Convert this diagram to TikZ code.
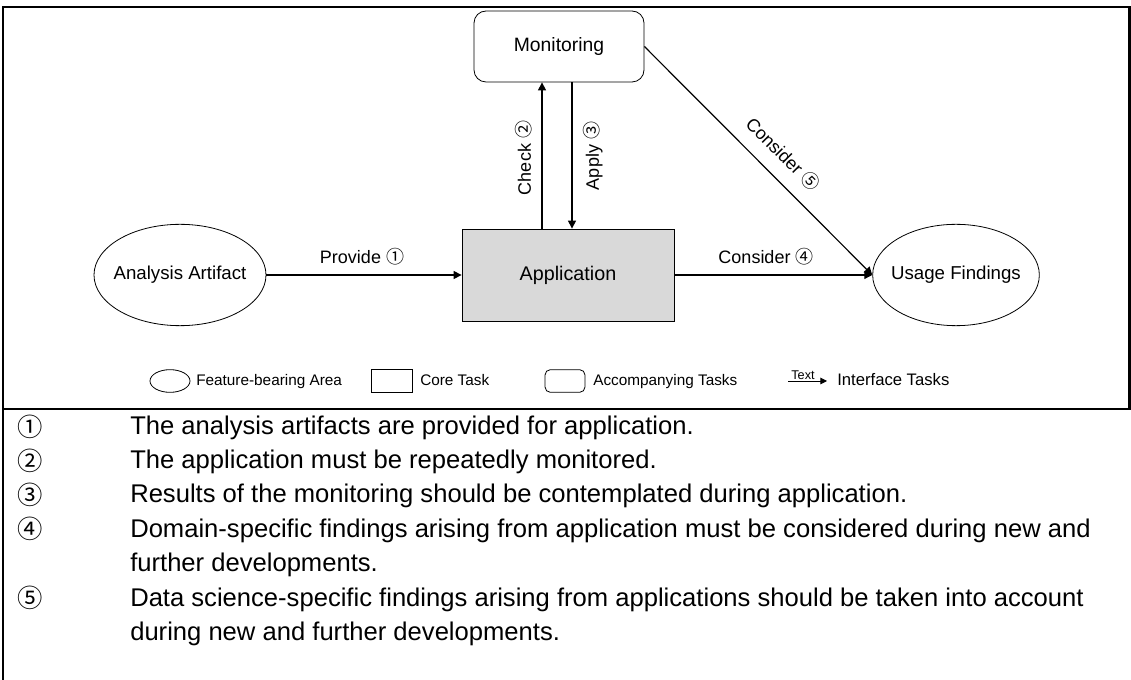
\documentclass[tikz,border=0pt]{standalone}
\usepackage{fontspec}
\setmainfont{Liberation Sans}
\newfontfamily\symfont{Noto Sans CJK SC}
\usetikzlibrary{shapes.geometric,arrows.meta}
\newcommand{\cnum}[1]{{\symfont #1}}
\begin{document}
\begin{tikzpicture}[x=0.75pt,y=-0.75pt,
  arr/.style={-{Triangle[length=6pt,width=6pt]},line width=0.9pt},
  lbl/.style={font=\fontsize{13.5}{15}\selectfont,inner sep=1pt},
  leg/.style={font=\fontsize{11.5}{13}\selectfont,anchor=base west,inner sep=0pt},
  frame/.style={line width=1.6pt},
  rowtxt/.style={font=\fontsize{19.2}{21}\selectfont,anchor=base west,inner sep=0pt},
  rownum/.style={font=\symfont\fontsize{19}{21}\selectfont,inner sep=0pt},
  area/.style={draw,ellipse,inner sep=0pt,line width=0.6pt},
  core/.style={draw,rectangle,inner sep=0pt,line width=0.6pt},
  acc/.style={draw,rectangle,rounded corners=9pt,inner sep=0pt,line width=0.6pt}]
\useasboundingbox (0,0) rectangle (1131,680);
% frame
\coordinate (tl) at (3,7);
\coordinate (tr) at (1129.5,7);
\coordinate (ml) at (3,409);
\coordinate (mr) at (1131,409);
\coordinate (bl) at (3,680);
\draw[frame] (bl) -- (tl) -- (tr) -- (tr |- mr);
\draw[frame] (ml) -- (mr);
% nodes
\node[area,minimum width=129pt,minimum height=76pt,font=\fontsize{14}{16}\selectfont] (aa) at (180,275) {\makebox[0pt]{Analysis Artifact}};
\node[core,fill=black!15,minimum width=159pt,minimum height=69pt,font=\fontsize{14.8}{16}\selectfont] (app) at (568,275) {Application};
\node[acc,minimum width=127.5pt,minimum height=53.25pt,font=\fontsize{14.5}{16}\selectfont] (mon) at (559,46.5) {Monitoring};
\node[area,minimum width=125pt,minimum height=76pt,font=\fontsize{14}{16}\selectfont] (uf) at (956,275) {\makebox[0pt]{Usage Findings}};
% connectors
\coordinate (chk) at (542,0);
\coordinate (apl) at (572,0);
\draw[arr] (app.north -| chk) -- (mon.south -| chk);
\draw[arr] (mon.south -| apl) -- (app.north -| apl);
\draw[arr] (aa.east) -- (app.west);
\draw[arr] (app.east) -- (uf.west);
\draw[arr] (mon.east) -- (uf.west);
% labels
\node[lbl] (l1) at (362,257) {Provide \cnum{①}};
\node[lbl,rotate=90] (l2) at (524,158) {Check \cnum{②}};
\node[lbl,rotate=90] (l3) at (593,156) {Apply \cnum{③}};
\node[lbl] (l4) at (766,257) {Consider \cnum{④}};
\node[lbl,rotate=-45] (l5) at (783,154) {Consider \cnum{⑤}};
% legend
\node[area,minimum width=30pt,minimum height=17pt] (lg1) at (170,381) {};
\node[leg] (lt1) at (196,386) {Feature-bearing Area};
\node[core,minimum width=30.75pt,minimum height=17pt] (lg2) at (391.5,381) {};
\node[leg] (lt2) at (420,386) {Core Task};
\node[acc,rounded corners=4pt,minimum width=30pt,minimum height=17pt] (lg3) at (565,381) {};
\node[leg] (lt3) at (593,386) {Accompanying Tasks};
\coordinate (la1) at (788,381);
\coordinate (la2) at (827,381);
\draw[-{Triangle[length=5pt,width=5pt]},line width=0.7pt] (la1) -- (la2);
\node[font=\fontsize{9.5}{10}\selectfont,inner sep=0pt,anchor=base] (ltx) at (803,380) {Text};
\node[leg,font=\fontsize{12.5}{14}\selectfont] (lt4) at (837,386) {Interface Tasks};
% explanations
\node[rownum] (n1) at (30,427) {①};
\node[rowtxt] (t1) at (130,435) {The analysis artifacts are provided for application.};
\node[rownum] (n2) at (30,461) {②};
\node[rowtxt] (t2) at (130,469) {The application must be repeatedly monitored.};
\node[rownum] (n3) at (30,495) {③};
\node[rowtxt] (t3) at (130,503) {Results of the monitoring should be contemplated during application.};
\node[rownum] (n4) at (30,529) {④};
\node[rowtxt] (t4) at (130,537) {Domain-specific findings arising from application must be considered during new and};
\node[rowtxt] (t4b) at (130,571) {further developments.};
\node[rownum] (n5) at (30,598) {⑤};
\node[rowtxt] (t5) at (130,606) {Data science-specific findings arising from applications should be taken into account};
\node[rowtxt] (t5b) at (130,640) {during new and further developments.};
\end{tikzpicture}
\end{document}
